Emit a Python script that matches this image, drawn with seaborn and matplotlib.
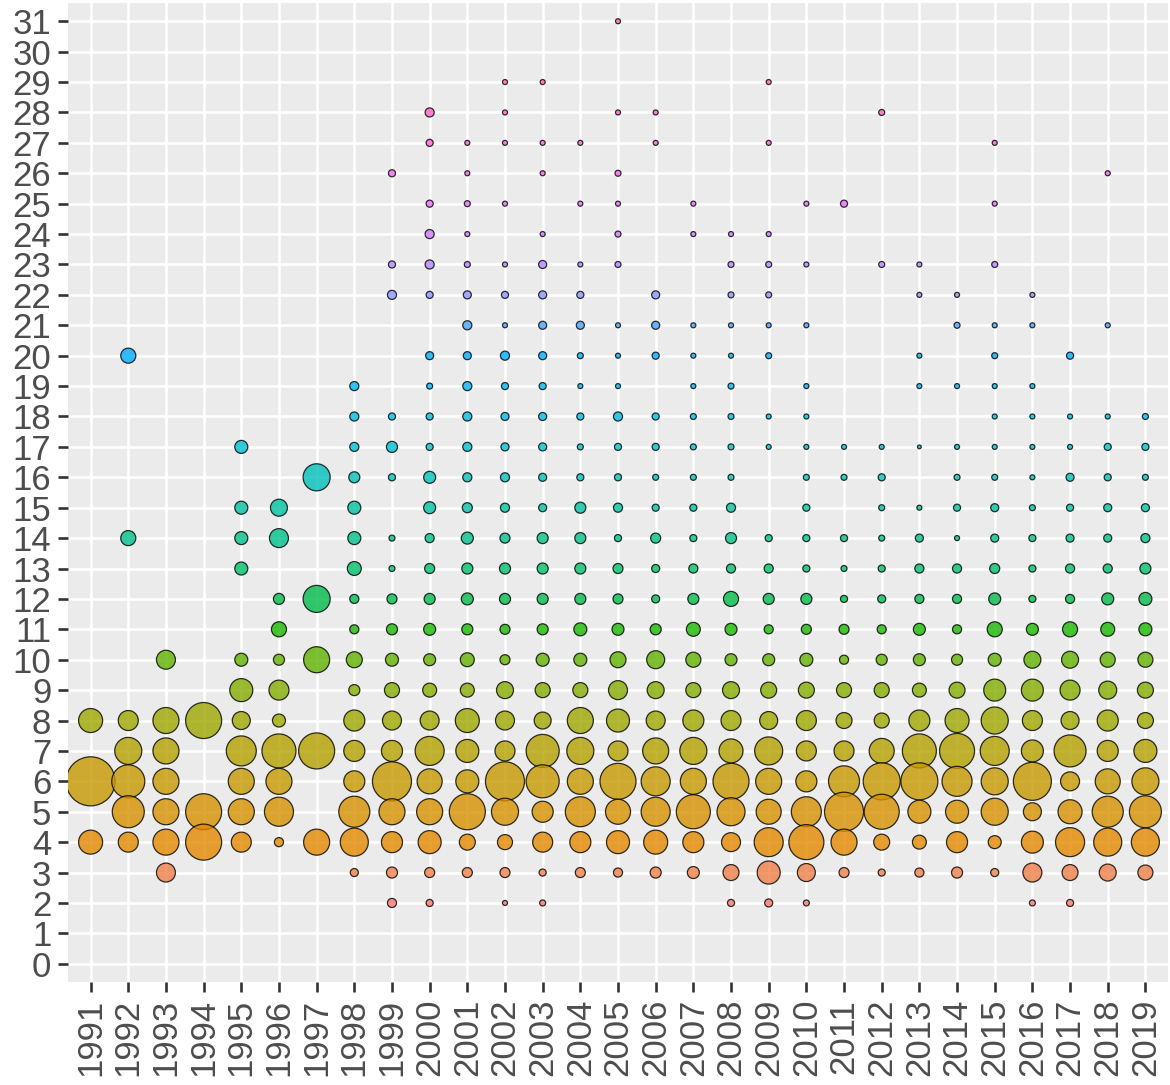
import matplotlib

matplotlib.use("Agg")
import matplotlib.pyplot as plt
import numpy as np
import pandas as pd
import seaborn as sns

# share (%) of each value within a year
y1991 = {8: 16.0, 6: 66.7, 4: 16.0}
y1992 = {20: 6.3, 14: 6.3, 8: 11.1, 7: 20.3, 6: 30.3, 5: 28.4, 4: 11.1}
y1993 = {10: 10.0, 8: 18.8, 7: 18.8, 6: 18.8, 5: 18.8, 4: 18.8, 3: 10.0}
y1994 = {8: 36.0, 5: 36.0, 4: 36.0}
y1995 = {17: 4.7, 15: 4.7, 14: 4.7, 13: 4.7, 10: 4.7, 9: 14.7, 8: 9.0,
         7: 25.0, 6: 18.8, 5: 18.8, 4: 11.1}
y1996 = {15: 8.0, 14: 10.0, 12: 3.4, 11: 6.3, 10: 3.4, 9: 11.1, 8: 4.7,
         7: 32.1, 6: 18.8, 5: 23.4, 4: 2.3}
y1997 = {16: 20.3, 12: 20.3, 10: 18.8, 7: 36.0, 4: 18.8}
y1998 = {19: 2.3, 18: 2.3, 17: 2.3, 16: 3.4, 15: 4.7, 14: 4.7, 13: 5.4,
         12: 2.3, 11: 2.3, 10: 7.1, 9: 3.4, 8: 12.3, 7: 12.3, 6: 12.3,
         5: 26.7, 4: 21.8, 3: 1.8}
y1999 = {26: 1.4, 23: 1.4, 22: 2.3, 18: 1.4, 17: 3.4, 16: 1.4, 14: 1.0,
         13: 1.0, 12: 2.8, 11: 3.4, 10: 4.7, 9: 6.3, 8: 10.0, 7: 12.3,
         6: 42.3, 5: 18.8, 4: 12.3, 3: 3.4, 2: 2.3}
y2000 = {28: 2.3, 27: 1.4, 25: 1.4, 24: 2.3, 23: 2.3, 22: 1.4, 20: 1.8,
         19: 1.0, 18: 1.4, 17: 1.4, 16: 4.0, 15: 4.0, 14: 2.3, 13: 2.8,
         12: 3.4, 11: 4.0, 10: 4.0, 9: 5.4, 8: 10.0, 7: 23.4, 6: 17.4,
         5: 18.8, 4: 14.7, 3: 2.8, 2: 1.4}
y2001 = {27: 0.7, 26: 0.7, 25: 1.0, 24: 0.7, 23: 1.0, 22: 1.8, 21: 2.3,
         20: 1.8, 19: 2.3, 18: 2.3, 17: 2.3, 16: 2.3, 15: 2.8, 14: 4.0,
         13: 3.4, 12: 4.0, 11: 3.4, 10: 5.4, 9: 5.4, 8: 16.0, 7: 14.7,
         6: 14.7, 5: 36.0, 4: 7.1, 3: 2.8}
y2002 = {29: 0.7, 28: 0.7, 27: 0.7, 25: 0.7, 23: 0.7, 22: 1.4, 21: 0.7,
         20: 2.3, 19: 1.4, 18: 1.8, 17: 1.8, 16: 2.3, 15: 2.3, 14: 2.8,
         13: 3.4, 12: 3.4, 11: 2.8, 10: 2.8, 9: 8.0, 8: 10.0, 7: 11.1,
         6: 42.3, 5: 20.3, 4: 6.3, 3: 2.8, 2: 0.7}
y2003 = {29: 0.7, 27: 0.7, 26: 0.7, 24: 0.7, 23: 1.8, 22: 1.8, 21: 1.8,
         20: 1.8, 19: 1.4, 18: 1.8, 17: 1.8, 16: 1.8, 15: 1.8, 14: 3.4,
         13: 3.4, 12: 3.4, 11: 3.4, 10: 4.7, 9: 6.3, 8: 8.0, 7: 30.3,
         6: 30.3, 5: 12.3, 4: 11.1, 3: 1.4, 2: 1.0}
y2004 = {27: 0.7, 25: 0.7, 23: 0.7, 22: 1.4, 21: 1.8, 20: 1.0, 19: 0.7,
         18: 1.4, 17: 1.0, 16: 1.4, 15: 3.4, 14: 3.4, 13: 3.4, 12: 3.4,
         11: 4.7, 10: 4.7, 9: 6.3, 8: 18.8, 7: 20.3, 6: 18.8, 5: 25.0,
         4: 12.3, 3: 2.8}
y2005 = {31: 0.7, 28: 0.7, 26: 1.0, 25: 0.7, 24: 1.0, 23: 1.0, 21: 0.7,
         20: 0.7, 19: 0.7, 18: 2.3, 17: 1.4, 16: 1.4, 15: 2.3, 14: 1.4,
         13: 2.8, 12: 2.8, 11: 4.0, 10: 7.1, 9: 10.0, 8: 14.7, 7: 11.1,
         6: 36.0, 5: 17.4, 4: 14.7, 3: 2.3}
y2006 = {28: 0.7, 27: 0.7, 22: 1.8, 21: 1.8, 20: 1.4, 18: 1.4, 17: 1.4,
         16: 1.0, 15: 1.4, 14: 2.8, 13: 1.8, 12: 1.8, 11: 3.4, 10: 9.0,
         9: 8.0, 8: 10.0, 7: 18.8, 6: 23.4, 5: 23.4, 4: 16.0, 3: 3.4}
y2007 = {25: 0.7, 24: 0.7, 21: 0.7, 20: 0.7, 19: 0.7, 18: 1.0, 17: 1.0,
         16: 1.0, 15: 1.4, 14: 1.4, 13: 2.3, 12: 3.4, 11: 5.4, 10: 6.3,
         9: 6.3, 8: 12.3, 7: 20.3, 6: 18.8, 5: 32.1, 4: 12.3, 3: 4.0}
y2008 = {24: 0.7, 23: 1.0, 22: 1.0, 21: 0.7, 20: 0.7, 19: 1.0, 18: 1.0,
         17: 1.0, 16: 1.0, 15: 2.3, 14: 3.4, 13: 2.3, 12: 6.3, 11: 4.0,
         10: 4.0, 9: 8.0, 8: 11.1, 7: 16.0, 6: 36.0, 5: 21.8, 4: 10.0,
         3: 7.1, 2: 1.4}
y2009 = {29: 0.7, 27: 0.7, 24: 0.7, 23: 1.0, 22: 1.0, 21: 0.7, 20: 1.0,
         18: 0.7, 17: 0.7, 14: 1.4, 13: 2.3, 12: 3.4, 11: 2.3, 10: 4.0,
         9: 7.1, 8: 9.0, 7: 21.8, 6: 18.8, 5: 17.4, 4: 23.4, 3: 14.7,
         2: 1.8}
y2010 = {25: 0.7, 23: 0.7, 21: 0.7, 19: 0.7, 18: 0.7, 17: 0.7, 16: 1.0,
         15: 1.4, 14: 1.4, 13: 1.4, 12: 3.4, 11: 2.8, 10: 4.7, 9: 7.1,
         8: 11.1, 7: 11.1, 6: 12.3, 5: 25.0, 4: 34.0, 3: 9.0, 2: 1.0}
y2011 = {25: 1.4, 17: 0.7, 16: 1.0, 14: 1.4, 13: 1.0, 12: 1.4, 11: 2.8,
         10: 2.3, 9: 6.3, 8: 7.1, 7: 11.1, 6: 26.7, 5: 42.3, 4: 18.8,
         3: 2.8}
y2012 = {28: 1.0, 23: 1.0, 17: 0.7, 16: 1.4, 15: 1.0, 14: 1.0, 13: 1.4,
         12: 1.8, 11: 2.3, 10: 3.4, 9: 6.3, 8: 6.3, 7: 17.4, 6: 38.0,
         5: 34.0, 4: 7.1, 3: 1.4}
y2013 = {23: 0.7, 22: 0.7, 20: 0.7, 19: 0.7, 17: 0.4, 15: 0.7, 14: 1.8,
         13: 2.3, 12: 2.3, 11: 4.0, 10: 4.0, 9: 5.4, 8: 12.3, 7: 32.1,
         6: 38.0, 5: 14.7, 4: 5.4, 3: 2.3}
y2014 = {22: 0.7, 21: 1.0, 19: 0.7, 17: 0.7, 16: 1.0, 15: 1.4, 14: 0.7,
         13: 2.3, 12: 2.3, 11: 2.3, 10: 3.4, 9: 7.1, 8: 16.0, 7: 34.0,
         6: 25.0, 5: 14.7, 4: 12.3, 3: 3.4}
y2015 = {27: 0.7, 25: 0.7, 23: 1.0, 21: 0.7, 20: 1.0, 19: 0.7, 18: 0.7,
         17: 0.7, 16: 1.0, 15: 1.8, 14: 1.8, 13: 2.8, 12: 4.0, 11: 6.3,
         10: 4.7, 9: 13.4, 8: 20.3, 7: 23.4, 6: 20.3, 5: 20.3, 4: 4.7,
         3: 1.8}
y2016 = {22: 0.7, 21: 0.7, 19: 0.7, 18: 0.7, 17: 0.7, 16: 0.7, 15: 1.0,
         14: 1.4, 13: 1.4, 12: 1.4, 11: 4.0, 10: 8.0, 9: 13.4, 8: 11.1,
         7: 13.4, 6: 40.1, 5: 9.0, 4: 13.4, 3: 10.0, 2: 1.0}
y2017 = {20: 1.4, 18: 0.7, 17: 0.7, 16: 1.8, 15: 1.4, 14: 1.8, 13: 2.3,
         12: 2.3, 11: 6.3, 10: 8.0, 9: 11.1, 8: 9.0, 7: 28.4, 6: 10.0,
         5: 16.0, 4: 23.4, 3: 7.1, 2: 1.4}
y2018 = {26: 0.7, 21: 0.7, 18: 0.7, 17: 1.4, 16: 1.4, 15: 1.8, 14: 1.8,
         13: 2.3, 12: 4.0, 11: 5.4, 10: 6.3, 9: 9.0, 8: 12.3, 7: 12.3,
         6: 17.4, 5: 26.7, 4: 21.8, 3: 8.0}
y2019 = {18: 1.0, 17: 1.4, 16: 1.0, 15: 1.8, 14: 2.3, 13: 3.4, 12: 4.7,
         11: 4.7, 10: 6.3, 9: 7.1, 8: 7.1, 7: 14.7, 6: 20.3, 5: 28.4,
         4: 21.8, 3: 6.3}

years = list(range(1991, 2020))
year_tables = [y1991, y1992, y1993, y1994, y1995, y1996, y1997, y1998,
               y1999, y2000, y2001, y2002, y2003, y2004, y2005, y2006,
               y2007, y2008, y2009, y2010, y2011, y2012, y2013, y2014,
               y2015, y2016, y2017, y2018, y2019]
y_ticks = list(range(0, 32))

rows = []
for yr, tab in zip(years, year_tables):
    for val, share in tab.items():
        rows.append((yr, val, share))
df = pd.DataFrame(rows, columns=["year", "value", "share"])


def hcl_to_hex(h, c=100.0, l=65.0):
    """ggplot-style hue colour (polar LUV, D65) -> hex."""
    hr = np.deg2rad(h)
    u, v = c * np.cos(hr), c * np.sin(hr)
    Y = ((l + 16) / 116) ** 3
    xn, yn, zn = 0.95047, 1.0, 1.08883
    den = xn + 15 * yn + 3 * zn
    un, vn = 4 * xn / den, 9 * yn / den
    up, vp = u / (13 * l) + un, v / (13 * l) + vn
    X = Y * 9 * up / (4 * vp)
    Z = Y * (12 - 3 * up - 20 * vp) / (4 * vp)
    m = np.array([[3.240479, -1.537150, -0.498535],
                  [-0.969256, 1.875992, 0.041556],
                  [0.055648, -0.204043, 1.057311]])
    lin = m @ np.array([X, Y, Z])
    rgb = np.where(lin <= 0.0031308, 12.92 * lin,
                   1.055 * np.clip(lin, 0, None) ** (1 / 2.4) - 0.055)
    rgb = np.clip(rgb, 0, 1)
    return "#%02x%02x%02x" % tuple(int(round(x * 255)) for x in rgb)


levels = sorted(df["value"].unique())
n = len(levels)
palette = {lv: hcl_to_hex(15 + 360 * i / n) for i, lv in enumerate(levels)}

size_max = 70.0
fig = plt.figure(figsize=(11.7, 10.85), dpi=100)
ax = fig.add_axes([68 / 1170, 1 - 982 / 1085, 1100 / 1170, 979 / 1085])
ax.set_facecolor("#EBEBEB")
ax.set_axisbelow(True)
ax.grid(True, color="white", linewidth=1.9)

sns.scatterplot(
    data=df,
    x="year",
    y="value",
    hue="value",
    palette=palette,
    size="share",
    sizes=(0, 18.7 * size_max),
    size_norm=(0, size_max),
    alpha=0.8,
    edgecolor="black",
    linewidth=0.9,
    legend=False,
    ax=ax,
)

ax.set_xlim(1990.4, 2019.6)
ax.set_ylim(-0.6, 31.6)
ax.set_xticks(years)
ax.set_xticklabels([str(y) for y in years], rotation=90)
ax.set_yticks(y_ticks)
ax.set_yticklabels([str(t) for t in y_ticks])
ax.set_xlabel("")
ax.set_ylabel("")
for s in ax.spines.values():
    s.set_visible(False)
ax.tick_params(axis="both", length=7, width=1.9, color="#333333",
               labelcolor="#4D4D4D", labelsize=25, pad=5)
for lab in ax.get_xticklabels() + ax.get_yticklabels():
    lab.set_fontfamily(["Liberation Sans", "DejaVu Sans"])

fig.savefig("out.png", dpi=100)
